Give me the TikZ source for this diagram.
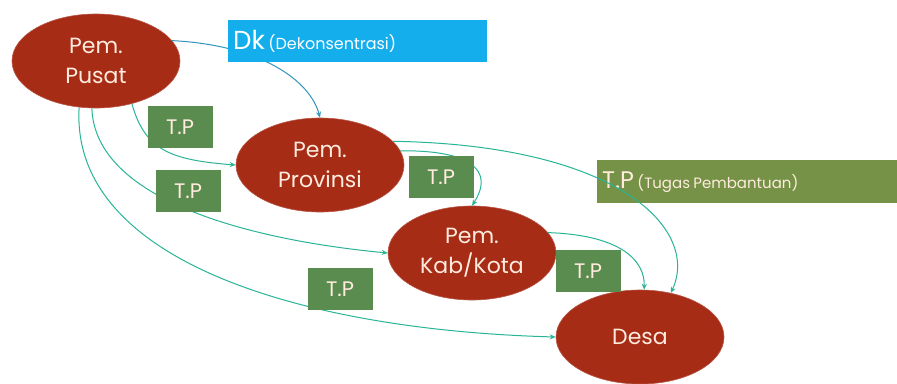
\documentclass[tikz,border=0pt]{standalone}
\usepackage{fontspec}
\setmainfont{Poppins}
\usetikzlibrary{shapes.geometric,arrows.meta}
\definecolor{ellred}{RGB}{166,44,22}
\definecolor{txtcream}{RGB}{255,236,222}
\definecolor{tpgreen}{RGB}{90,140,80}
\definecolor{tpolive}{RGB}{118,146,70}
\definecolor{dkblue}{RGB}{20,174,236}
\definecolor{arrowc}{RGB}{40,180,150}
\definecolor{arrowb}{RGB}{50,150,190}
\tikzset{
  x=1pt,y=-1pt,
  ell/.style={ellipse,fill=ellred,draw=ellred!80!white,line width=0.6pt,text=txtcream,
     minimum width=168pt,minimum height=94pt,inner sep=0pt,align=center,
     font=\fontsize{22}{30}\selectfont},
  tpbox/.style={rectangle,fill=tpgreen,text=txtcream,minimum width=65pt,minimum height=42pt,
     inner sep=0pt,font=\fontsize{21}{24}\selectfont},
  dkstyle/.style={rectangle,fill=dkblue,text=white,minimum width=259pt,minimum height=42pt,
     inner sep=0pt,anchor=north west,text width=249pt,align=left},
  tplongstyle/.style={rectangle,fill=tpolive,text=txtcream,minimum width=300pt,minimum height=43pt,
     inner sep=0pt,anchor=north west,text width=290pt,align=left},
  conn/.style={draw=arrowc,line width=1pt,-{Stealth[length=6pt,width=5pt]}},
}
\begin{document}
\begin{tikzpicture}
\useasboundingbox[fill=white] (0,0) rectangle (897,383);
% ellipses
\node[ell] (pusat) at (96,61) {Pem.\\Pusat};
\node[ell] (prov) at (320,165) {Pem.\\Provinsi};
\node[ell] (kab) at (472,253) {Pem.\\Kab/Kota};
\node[ell] (desa) at (640,337) {Desa};
% long label box
\node[tplongstyle] (tplong) at (597,160)
  {\fontsize{24}{26}\selectfont T.P \fontsize{15}{17}\selectfont(Tugas Pembantuan)};
% small T.P box positions
\coordinate (c1) at (180,127);
\coordinate (c2) at (188,191);
\coordinate (c3) at (441,177);
\coordinate (c4) at (588,271);
\coordinate (c5) at (340,289);
% connectors
\draw[conn,draw=arrowb] (pusat.15) .. controls (260,45) and (310,80) .. (prov.north);
\draw[conn] (pusat.-50) .. controls (145,150) and (170,160) .. (prov.west);
\draw[conn] (pusat.-95) .. controls (95,200) and (250,240) .. (kab.west);
\draw[conn] (pusat.-110) .. controls (70,260) and (300,330) .. (desa.west);
\draw[conn] (prov.18) .. controls (620,145) and (700,230) .. (desa.55);
\draw[conn] (prov.10) .. controls (470,150) and (495,170) .. (kab.north);
\draw[conn] (kab.15) .. controls (620,235) and (645,260) .. (desa.85);
% boxes on top
\node[tpbox] (tp1) at (c1) {T.P};
\node[tpbox] (tp2) at (c2) {T.P};
\node[tpbox] (tp3) at (c3) {T.P};
\node[tpbox] (tp4) at (c4) {T.P};
\node[tpbox] (tp5) at (c5) {T.P};
\node[dkstyle] (dk) at (228,20)
  {\fontsize{26}{28}\selectfont Dk \fontsize{16}{18}\selectfont(Dekonsentrasi)};
\end{tikzpicture}
\end{document}
